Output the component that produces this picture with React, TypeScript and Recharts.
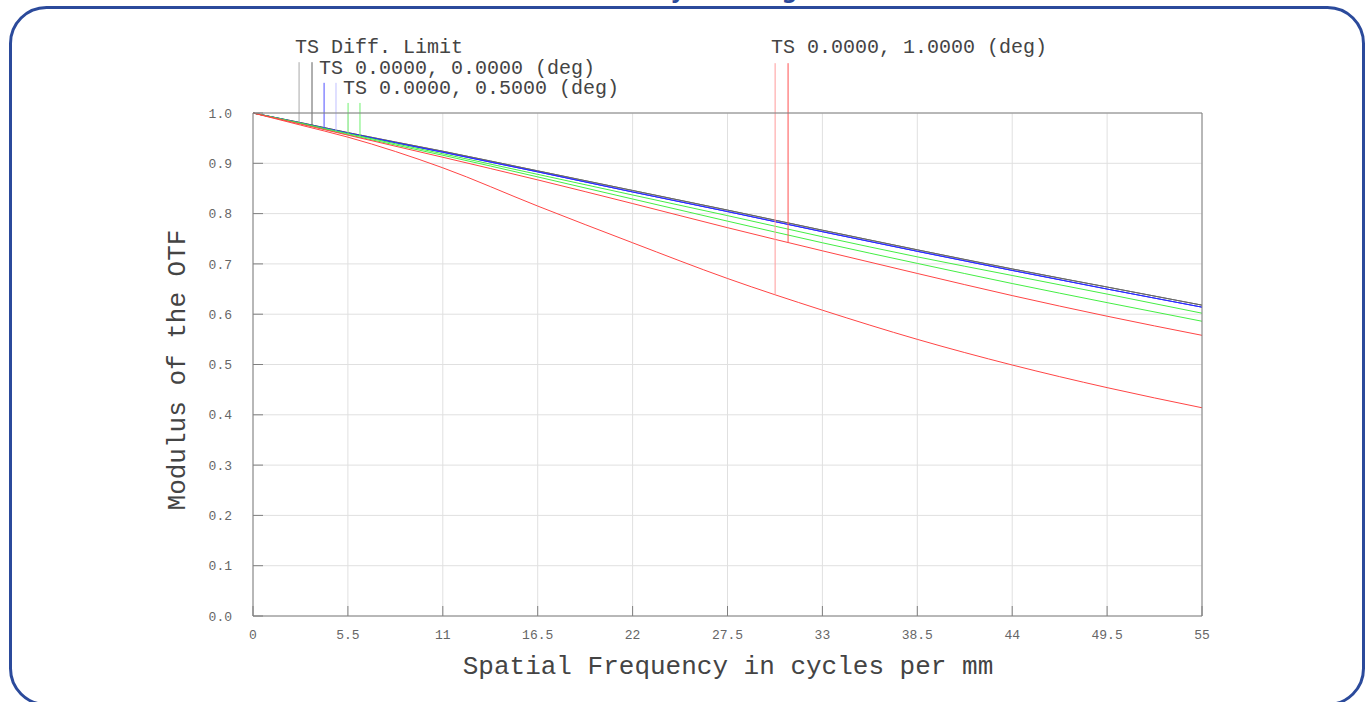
import React from 'react';
import { LineChart, Line, XAxis, YAxis, CartesianGrid, ReferenceLine } from 'recharts';

// Spatial frequency samples (cycles per mm)
const freq = [0, 2.75, 5.5, 11, 16.5, 22, 27.5, 33, 38.5, 44, 49.5, 55];

// Modulus of the OTF
const diffLimit = [1, 0.981, 0.961, 0.924, 0.885, 0.846, 0.807, 0.767, 0.728, 0.69, 0.654, 0.618];
const field0 = [1, 0.98, 0.96, 0.922, 0.883, 0.843, 0.804, 0.764, 0.725, 0.687, 0.65, 0.614];
const field05T = [1, 0.98, 0.959, 0.919, 0.878, 0.837, 0.796, 0.754, 0.714, 0.677, 0.64, 0.602];
const field05S = [1, 0.979, 0.957, 0.916, 0.873, 0.829, 0.785, 0.742, 0.701, 0.661, 0.623, 0.586];
const field1S = [1, 0.978, 0.956, 0.912, 0.867, 0.82, 0.772, 0.726, 0.681, 0.637, 0.596, 0.558];
const field1T = [1, 0.976, 0.952, 0.891, 0.815, 0.742, 0.671, 0.608, 0.55, 0.499, 0.454, 0.414];

const xTicks = [0, 5.5, 11, 16.5, 22, 27.5, 33, 38.5, 44, 49.5, 55];
const yTicks = [0, 0.1, 0.2, 0.3, 0.4, 0.5, 0.6, 0.7, 0.8, 0.9, 1.0];

const legendLabels = ['TS Diff. Limit', 'TS 0.0000, 0.0000 (deg)', 'TS 0.0000, 0.5000 (deg)', 'TS 0.0000, 1.0000 (deg)'];

const GRAY = '#686868';
const BLUE = '#2a2aff';
const GREEN = '#44ee44';
const RED = '#ff4545';

const seriesDefs = [
  { key: 'dlT', values: diffLimit, color: GRAY },
  { key: 'dlS', values: diffLimit, color: GRAY },
  { key: 'f0T', values: field0, color: BLUE },
  { key: 'f0S', values: field0, color: BLUE },
  { key: 'f05T', values: field05T, color: GREEN },
  { key: 'f05S', values: field05S, color: GREEN },
  { key: 'f1T', values: field1T, color: RED },
  { key: 'f1S', values: field1S, color: RED },
];

// legend connector anchors (frequency) and their top value
const connectorFreq = [2.67, 3.42, 4.12, 4.81, 5.51, 6.2, 30.26, 31.01];
const connectorTop = [1.101, 1.101, 1.06, 1.06, 1.02, 1.02, 1.099, 1.099];
const connectorColor = ['#a8a8a8', '#606060', '#5050ff', '#c0c0ff', '#70f070', '#70f070', '#ff9a9a', '#ff5050'];

const data = freq.map((f, i) => {
  const row: Record<string, number> = { f };
  seriesDefs.forEach((s) => {
    row[s.key] = s.values[i];
  });
  return row;
});

function interp(values: number[], x: number) {
  for (let i = 0; i < freq.length - 1; i++) {
    if (x >= freq[i] && x <= freq[i + 1]) {
      const t = (x - freq[i]) / (freq[i + 1] - freq[i]);
      return values[i] + t * (values[i + 1] - values[i]);
    }
  }
  return values[values.length - 1];
}

const MONO = '"Liberation Mono", "DejaVu Sans Mono", monospace';

export default function App() {
  return (
    <div style={{ position: 'absolute', left: 0, top: 0, width: 1372, height: 702, background: '#fff' }}>
      <LineChart
        width={1372}
        height={702}
        data={data}
        margin={{ top: 103, right: 160, left: 0, bottom: 0 }}
      >
        <CartesianGrid stroke="#e0e0e0" strokeWidth={1} />
        <XAxis
          dataKey="f"
          type="number"
          domain={[0, 55]}
          ticks={xTicks}
          height={86}
          axisLine={{ stroke: '#808080' }}
          tickLine={{ stroke: '#808080' }}
          tickSize={-10}
          tickMargin={24}
          tick={{ fill: '#666', fontSize: 13, fontFamily: MONO }}
          interval={0}
        />
        <XAxis
          xAxisId="top"
          orientation="top"
          dataKey="f"
          type="number"
          domain={[0, 55]}
          ticks={xTicks}
          height={10}
          axisLine={{ stroke: '#808080' }}
          tickLine={{ stroke: '#808080' }}
          tickSize={-10}
          tick={false}
          interval={0}
        />
        <YAxis
          type="number"
          domain={[0, 1]}
          ticks={yTicks}
          width={253}
          axisLine={{ stroke: '#808080' }}
          tickLine={{ stroke: '#808080' }}
          tickSize={-10}
          tickMargin={31}
          tick={{ fill: '#666', fontSize: 13, fontFamily: MONO }}
          tickFormatter={(v: number) => v.toFixed(1)}
          interval={0}
        />
        <YAxis
          yAxisId="right"
          orientation="right"
          type="number"
          domain={[0, 1]}
          ticks={yTicks}
          width={10}
          axisLine={{ stroke: '#808080' }}
          tickLine={{ stroke: '#808080' }}
          tickSize={-10}
          tick={false}
          interval={0}
        />
        {seriesDefs.map((s) => (
          <Line
            key={s.key}
            dataKey={s.key}
            type="monotone"
            stroke={s.color}
            strokeWidth={1}
            dot={false}
            activeDot={false}
            isAnimationActive={false}
          />
        ))}
        {connectorFreq.map((cf, i) => (
          <ReferenceLine
            key={'c' + i}
            ifOverflow="visible"
            stroke={connectorColor[i]}
            strokeWidth={1}
            segment={[
              { x: cf, y: interp(seriesDefs[i].values, cf) },
              { x: cf, y: connectorTop[i] },
            ]}
          />
        ))}
      </LineChart>
      <svg
        width={1372}
        height={702}
        style={{ position: 'absolute', left: 0, top: 0, pointerEvents: 'none' }}
      >
        <text x={604} y={-3} fill="#2b4a9b" fontSize={23} fontWeight={700} fontFamily='"Noto Sans", sans-serif'>
          MTF by Field Angle
        </text>
        <rect x={10.5} y={7.5} width={1353} height={697} rx={36} ry={36} fill="none" stroke="#2b4a9b" strokeWidth={3} />
        <text x={295} y={53} fill="#444" fontSize={20} fontFamily={MONO}>{legendLabels[0]}</text>
        <text x={319} y={74} fill="#444" fontSize={20} fontFamily={MONO}>{legendLabels[1]}</text>
        <text x={343} y={94} fill="#444" fontSize={20} fontFamily={MONO}>{legendLabels[2]}</text>
        <text x={771} y={53} fill="#444" fontSize={20} fontFamily={MONO}>{legendLabels[3]}</text>
        <text x={728} y={674} fill="#444" fontSize={26} textAnchor="middle" fontFamily={MONO}>
          Spatial Frequency in cycles per mm
        </text>
        <text
          x={185}
          y={370}
          fill="#444"
          fontSize={26}
          textAnchor="middle"
          fontFamily={MONO}
          transform="rotate(-90 185 370)"
        >
          Modulus of the OTF
        </text>
      </svg>
    </div>
  );
}
